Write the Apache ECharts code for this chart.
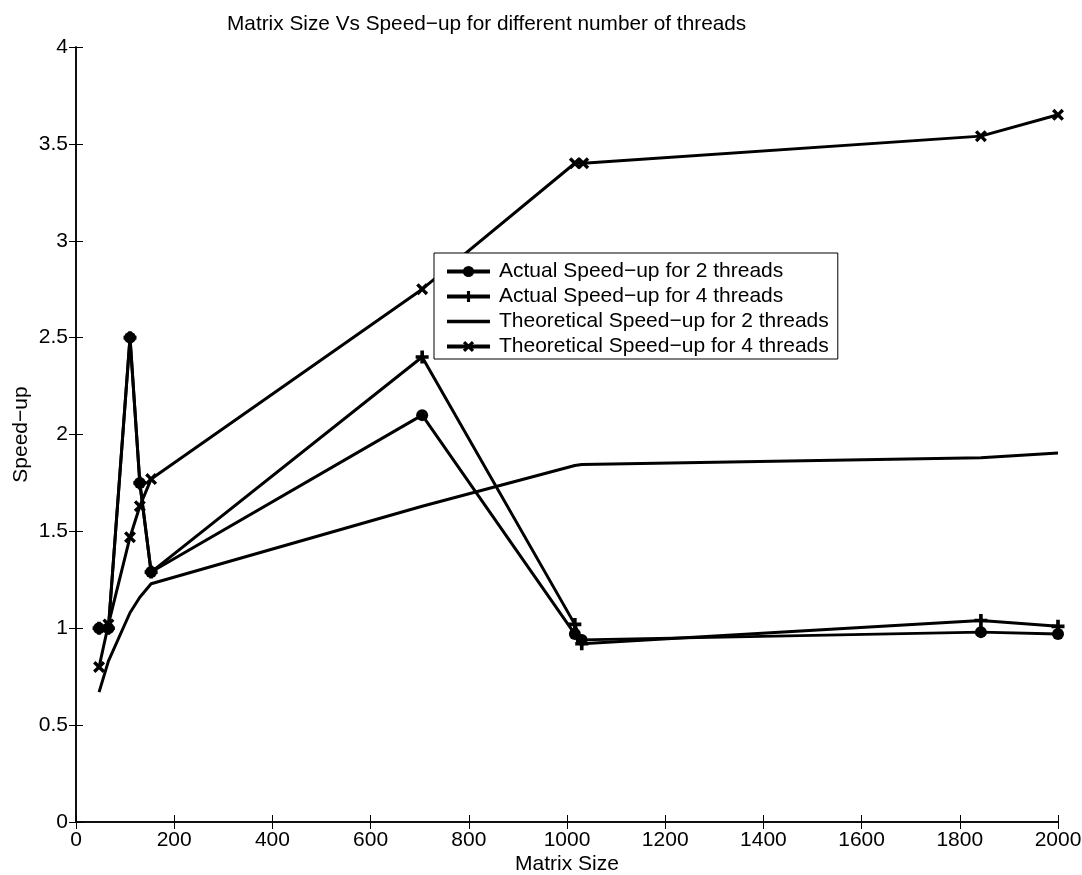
<!DOCTYPE html>
<html>
<head>
<meta charset="utf-8">
<script src="https://cdn.jsdelivr.net/npm/echarts@6/dist/echarts.min.js"></script>
<style>
  html, body { margin: 0; padding: 0; background: #fff; }
  #speedup_chart { width: 1082px; height: 875px; }
</style>
</head>
<body>
<div id="speedup_chart"></div>
<script>
// data: [matrix size, speed-up]
var actual2Threads = [[47, 1.0], [66, 1.0], [110, 2.5], [130, 1.75], [153, 1.29], [705, 2.1], [1016, 0.97], [1030, 0.94], [1843, 0.98], [2000, 0.97]];
var actual4Threads = [[47, 1.0], [66, 1.0], [110, 2.5], [130, 1.75], [153, 1.29], [705, 2.4], [1016, 1.02], [1030, 0.92], [1843, 1.04], [2000, 1.01]];
var theory2Threads = [[47, 0.67], [66, 0.83], [110, 1.08], [130, 1.16], [153, 1.23], [705, 1.63], [1016, 1.84], [1030, 1.845], [1843, 1.88], [2000, 1.905]];
var theory4Threads = [[47, 0.8], [66, 1.02], [110, 1.47], [130, 1.63], [153, 1.77], [705, 2.75], [1016, 3.4], [1033, 3.4], [1843, 3.54], [2000, 3.65]];

var seriesNames = ['Actual Speed\u2212up for 2 threads', 'Actual Speed\u2212up for 4 threads', 'Theoretical Speed\u2212up for 2 threads', 'Theoretical Speed\u2212up for 4 threads'];

var plusPath = 'path://M3.6,0 L6.4,0 L6.4,3.6 L10,3.6 L10,6.4 L6.4,6.4 L6.4,10 L3.6,10 L3.6,6.4 L0,6.4 L0,3.6 L3.6,3.6 Z';
var crossPath = 'path://M0,2 L2,0 L5,3 L8,0 L10,2 L7,5 L10,8 L8,10 L5,7 L2,10 L0,8 L3,5 Z';
var plainLinePath = 'path://M0,0 L43,0 L43,3.5 L0,3.5 Z';

var fontName = '"Liberation Sans", Arial, Helvetica, sans-serif';
var fontSz = 21;

var dom = document.getElementById('speedup_chart');
var myChart = echarts.init(dom, null, { renderer: 'canvas' });

function lineSeries(name, data, symbol, size) {
  return {
    name: name,
    type: 'line',
    data: data,
    symbol: symbol,
    symbolSize: size,
    showSymbol: symbol !== 'none',
    lineStyle: { color: '#000', width: 3 },
    itemStyle: { color: '#000' },
    animation: false
  };
}

var tickStyle = { show: true, inside: true, length: 7, lineStyle: { color: '#000', width: 1 } };
var frameLine = { show: true, lineStyle: { color: '#000', width: 1.5 } };

var option = {
  animation: false,
  title: {
    text: 'Matrix Size Vs Speed\u2212up for different number of threads',
    left: 222,
    top: 9,
    textStyle: { fontFamily: fontName, fontSize: 20.8, fontWeight: 'normal', color: '#000' }
  },
  legend: {
    data: [
      { name: seriesNames[0] },
      { name: seriesNames[1] },
      { name: seriesNames[2], icon: plainLinePath },
      { name: seriesNames[3] }
    ],
    orient: 'vertical',
    left: 434,
    top: 253,
    itemWidth: 43,
    itemHeight: 14,
    itemGap: 4,
    padding: [8, 9, 2, 11],
    borderColor: '#000',
    borderWidth: 1,
    borderRadius: 0,
    backgroundColor: '#fff',
    selectedMode: false,
    lineStyle: { width: 4 },
    textStyle: { fontFamily: fontName, fontSize: fontSz, color: '#000', padding: [0, 0, 0, 4] }
  },
  grid: { left: 76, right: 24, top: 47, bottom: 53, outerBoundsMode: 'none' },
  xAxis: [
    {
      type: 'value',
      min: 0,
      max: 2000,
      interval: 200,
      name: 'Matrix Size',
      nameLocation: 'middle',
      nameGap: 32,
      nameMoveOverlap: false,
      nameTextStyle: { fontFamily: fontName, fontSize: fontSz, color: '#000' },
      axisLine: frameLine,
      axisTick: tickStyle,
      axisLabel: {
        fontFamily: fontName, fontSize: fontSz, color: '#000', margin: 8,
        formatter: function (value) { return String(value); }
      },
      splitLine: { show: false }
    },
    {
      type: 'value',
      position: 'top',
      min: 0,
      max: 2000,
      interval: 200,
      axisLine: frameLine,
      axisTick: tickStyle,
      axisLabel: { show: false },
      splitLine: { show: false }
    }
  ],
  yAxis: [
    {
      type: 'value',
      min: 0,
      max: 4,
      interval: 0.5,
      name: 'Speed\u2212up',
      nameLocation: 'middle',
      nameGap: 44,
      nameMoveOverlap: false,
      nameTextStyle: { fontFamily: fontName, fontSize: fontSz, color: '#000' },
      axisLine: frameLine,
      axisTick: tickStyle,
      axisLabel: { fontFamily: fontName, fontSize: fontSz, color: '#000', margin: 8 },
      splitLine: { show: false }
    },
    {
      type: 'value',
      position: 'right',
      min: 0,
      max: 4,
      interval: 0.5,
      axisLine: frameLine,
      axisTick: tickStyle,
      axisLabel: { show: false },
      splitLine: { show: false }
    }
  ],
  series: [
    lineSeries(seriesNames[0], actual2Threads, 'circle', 12),
    lineSeries(seriesNames[1], actual4Threads, plusPath, 13),
    lineSeries(seriesNames[2], theory2Threads, 'none', 0),
    lineSeries(seriesNames[3], theory4Threads, crossPath, 12)
  ]
};

if (option && typeof option === 'object') {
  myChart.setOption(option);
}

window.addEventListener('resize', myChart.resize);
</script>
</body>
</html>
